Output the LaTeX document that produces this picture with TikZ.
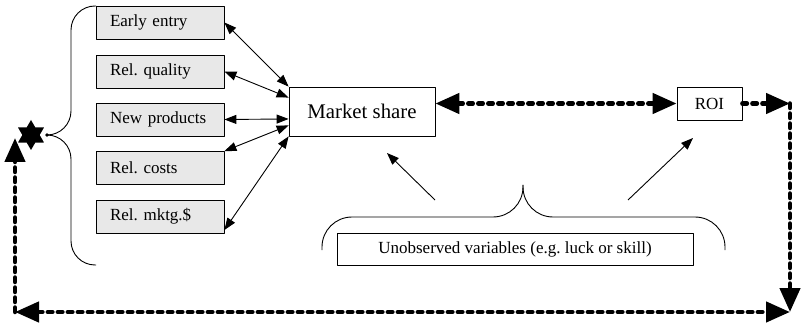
\documentclass[tikz,border=0pt]{standalone}
\usepackage{fontspec}
\setmainfont{Liberation Serif}
\usetikzlibrary{calc, arrows.meta, shapes.geometric}

\definecolor{grigiobox}{gray}{0.91}
\frenchspacing

\begin{document}
\begin{tikzpicture}[x=1pt, y=-1pt, line join=round,
  fattore/.style={draw, fill=grigiobox, line width=0.8pt, text width=100pt, align=left,
    inner xsep=14pt, inner ysep=0pt, minimum height=33pt, font=\fontsize{17}{20}\selectfont},
  scatola/.style={draw, fill=white, line width=0.8pt, inner sep=0pt, font=\fontsize{17}{20}\selectfont},
  freccia/.style={<->, >={Triangle[length=12pt,width=9pt]}, line width=0.9pt},
  singola/.style={->, >={Triangle[length=12pt,width=9pt]}, line width=0.9pt},
  spessa/.style={line width=4.5pt, line cap=round, dash pattern=on 4.5pt off 5.5pt,
    >={Triangle[length=24pt,width=20pt]}},
  graffa/.style={line width=0.9pt}]

\useasboundingbox (0,0) rectangle (801,326);

% fattori a sinistra
\node[fattore] (ee) at (160,22.5) {Early entry};
\node[fattore] (rq) at (160,71.5) {Rel. quality};
\node[fattore] (np) at (160,119.5) {New products};
\node[fattore] (rc) at (160,168) {Rel. costs};
\node[fattore] (rm) at (160,216.5) {Rel. mktg.\$};

% quota di mercato e ROI
\node[scatola, minimum width=146pt, minimum height=49pt, font=\fontsize{20.8}{24}\selectfont] (ms) at (362,111.5) {Market share};
\node[scatola, minimum width=65pt, minimum height=33pt] (roi) at (709.5,103.5) {ROI};

% variabili non osservate
\node[scatola, minimum width=356pt, minimum height=32pt] (uv) at (515,249) {Unobserved variables (e.g. luck or skill)};

% frecce fattori -> quota
\draw[freccia] (ee.east) -- (ms.north west);
\draw[freccia] (rq.east) -- ($(ms.north west)!0.22!(ms.south west)$);
\draw[freccia] (np.east) -- ($(ms.north west)!0.65!(ms.south west)$);
\draw[freccia] (rc.north east) -- ($(ms.north west)!0.78!(ms.south west)$);
\draw[freccia] ($(rm.east)!0.8!(rm.south east)$) -- (ms.south west);

% graffa a sinistra
\draw[graffa, rounded corners=24pt] (96,6) -- (71,6) -- (71,135) -- (47,135);
\draw[graffa, rounded corners=24pt] (47,135) -- (71,135) -- (71,265) -- (96,265);
\fill (47,135) circle (1.8pt);
\node[star, star points=6, star point ratio=1.73, fill, minimum size=30pt, inner sep=0pt] (stella) at (31,135) {};

% graffa sotto
\draw[graffa, rounded corners=30pt] (322,250) -- (322,217) -- (523,217) -- (523,185);
\draw[graffa, rounded corners=30pt] (523,185) -- (523,217) -- (725,217) -- (725,250);

% frecce dalle variabili non osservate
\coordinate (u1) at (435,200);
\coordinate (u2) at (628,200);
\coordinate (t1) at (387,153);
\coordinate (t2) at (693,138);
\draw[singola] (u1) -- (t1);
\draw[singola] (u2) -- (t2);

% anello di retroazione tratteggiato
\coordinate (cNE) at (790,103.5);
\coordinate (cSE) at (790,312);
\coordinate (cSW) at (15,312);
\coordinate (cNW) at (15,138);
\draw[spessa, <->] (ms.east |- roi.west) -- (roi.west);
\draw[spessa, ->] (roi.east) -- (cNE);
\draw[spessa, ->] (cNE) -- (cSE);
\draw[spessa, <->] (cSW) -- (cSE);
\draw[spessa, ->] (cSW) -- (cNW);

\end{tikzpicture}
\end{document}
